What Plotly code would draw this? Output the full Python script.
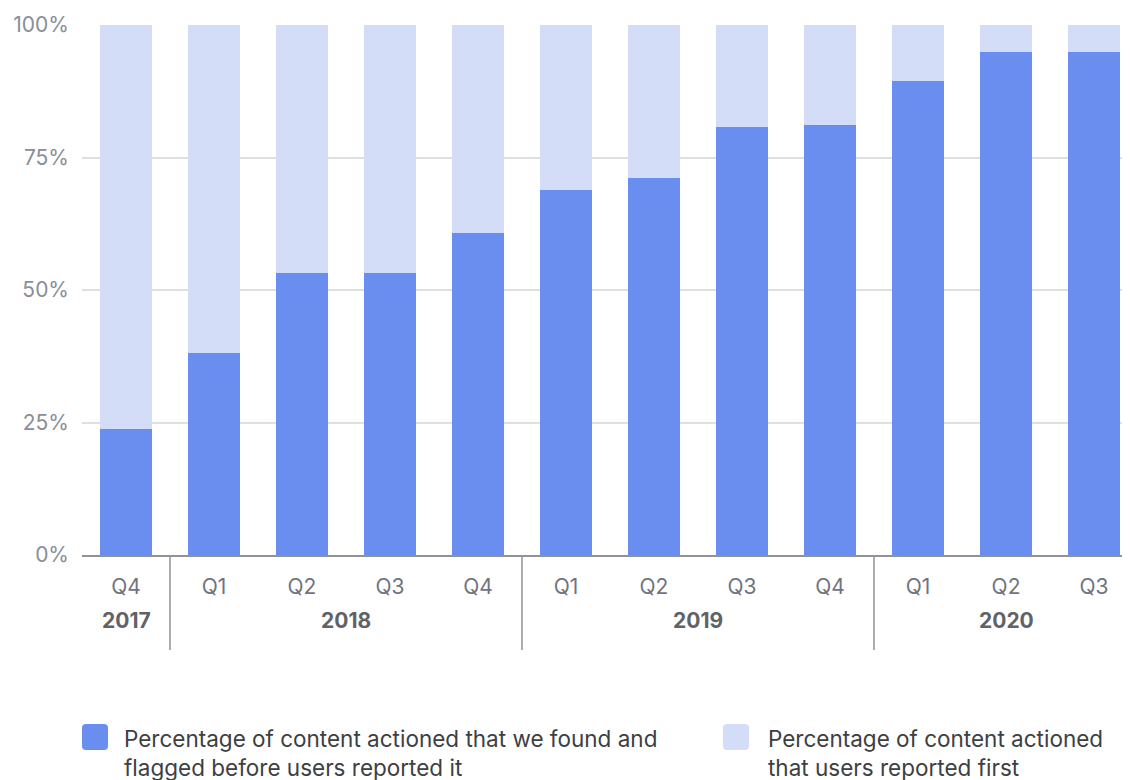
import plotly.graph_objects as go

years = ["2017", "2018", "2018", "2018", "2018", "2019", "2019", "2019", "2019", "2020", "2020", "2020"]
quarters = ["Q4", "Q1", "Q2", "Q3", "Q4", "Q1", "Q2", "Q3", "Q4", "Q1", "Q2", "Q3"]
found_first = [23.8, 38.2, 53.2, 53.2, 60.8, 68.8, 71.2, 80.8, 81.2, 89.5, 94.9, 94.9]
reported_first = [76.2, 61.8, 46.8, 46.8, 39.2, 31.2, 28.8, 19.2, 18.8, 10.5, 5.1, 5.1]
y_ticks = [0, 25, 50, 75, 100]
y_tick_text = ["0%", "25%", "50%", "75%", "100%"]
legend_names = [
    "Percentage of content actioned that we found and<br>flagged before users reported it",
    "Percentage of content actioned<br>that users reported first",
]

DARK = "#6A8EEF"
LIGHT = "#D3DDF8"
FONT = "Inter, Roboto, sans-serif"

keys = [f"{y} {q}" for y, q in zip(years, quarters)]

fig = go.Figure()
fig.add_trace(go.Bar(x=keys, y=found_first, marker=dict(color=DARK, line=dict(width=0)),
                     name=legend_names[0], showlegend=False, hoverinfo="skip", width=0.6))
fig.add_trace(go.Bar(x=keys, y=reported_first, marker=dict(color=LIGHT, line=dict(width=0)),
                     name=legend_names[1], showlegend=False, hoverinfo="skip", width=0.6))

OFF = 8  # page body margin
W, H = 1130 - OFF, 780 - OFF
ML, MR, MT = 82 - OFF, 0, 25 - OFF
MB = H - (555 - OFF)
pw = W - ML - MR
ph = H - MT - MB

def px_x(p):
    return (p - OFF - ML) / pw

def px_y(p):
    return (H - MB - (p - OFF)) / ph

def rounded_square(s, r):
    h = s / 2
    return (f"M {-h + r},{-h} L {h - r},{-h} Q {h},{-h} {h},{-h + r} "
            f"L {h},{h - r} Q {h},{h} {h - r},{h} L {-h + r},{h} Q {-h},{h} {-h},{h - r} "
            f"L {-h},{-h + r} Q {-h},{-h} {-h + r},{-h} Z")

shapes = []
annotations = []

# year group labels and dividers
groups = {}
for i, y in enumerate(years):
    groups.setdefault(y, []).append(i)
for y, idx in groups.items():
    annotations.append(dict(xref="x", yref="paper", x=sum(idx) / len(idx), y=px_y(620),
                            xanchor="center", yanchor="middle", showarrow=False,
                            text=f"<b>{y}</b>", font=dict(family=FONT, size=21, color="#5f6368")))
for i in range(1, len(years)):
    if years[i] != years[i - 1]:
        shapes.append(dict(type="line", xref="x", yref="paper", x0=i - 0.5, x1=i - 0.5,
                           y0=0, y1=px_y(650), line=dict(color="#8e9299", width=1.5)))

for cx, tx, col, name in [(95, 122, DARK, legend_names[0]), (736, 766, LIGHT, legend_names[1])]:
    shapes.append(dict(type="path", xref="paper", yref="paper", xsizemode="pixel", ysizemode="pixel",
                       xanchor=px_x(cx), yanchor=px_y(737), path=rounded_square(26, 4),
                       fillcolor=col, line=dict(width=0)))
    annotations.append(dict(xref="paper", yref="paper", x=px_x(tx), y=px_y(723),
                            xanchor="left", yanchor="top", align="left", showarrow=False,
                            text=name, font=dict(family=FONT, size=22.5, color="#3c4043")))

fig.update_layout(
    width=W, height=H,
    margin=dict(l=ML, r=MR, t=MT, b=MB, autoexpand=False),
    barmode="stack",
    plot_bgcolor="white", paper_bgcolor="white",
    font=dict(family=FONT),
    showlegend=False,
    shapes=shapes,
    annotations=annotations,
    xaxis=dict(
        type="category",
        range=[-0.5, 11.409],
        tickvals=keys,
        ticktext=quarters,
        showline=True, linecolor="#8e9299", linewidth=2,
        showgrid=False, ticks="",
        ticklabelstandoff=12,
        tickfont=dict(family=FONT, size=21, color="#6f7480"),
    ),
    yaxis=dict(
        range=[0, 100],
        tickvals=y_ticks,
        ticktext=y_tick_text,
        showgrid=True, gridcolor="#dedfe3", gridwidth=1.5,
        zeroline=False, showline=False, ticks="",
        ticklabelstandoff=12,
        tickfont=dict(family=FONT, size=21, color="#8a8e96"),
    ),
)

fig.write_html("out.html")
